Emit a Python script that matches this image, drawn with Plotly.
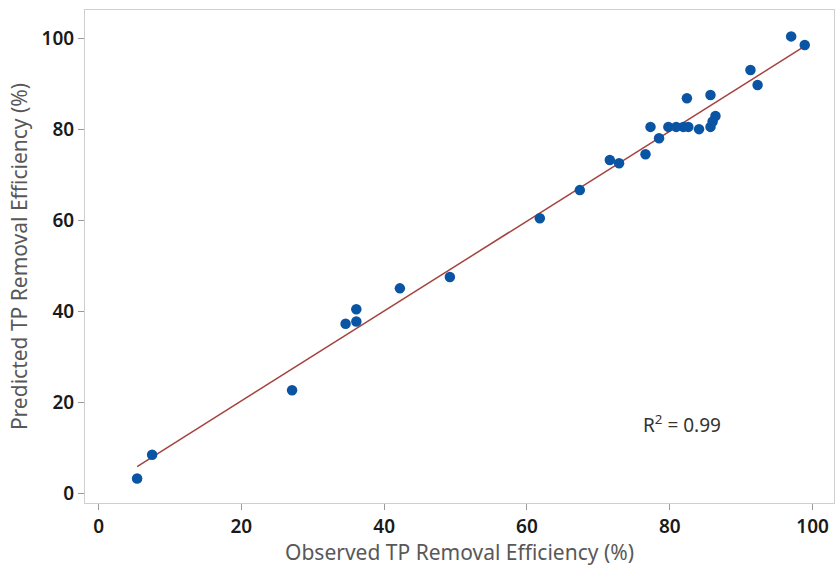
import numpy as np
import plotly.graph_objects as go

# Observed vs. predicted total-phosphorus removal efficiency (%)
observed = [5.4, 7.5, 27.1, 34.6, 36.1, 36.1, 42.2, 49.2, 61.8, 67.4,
            71.6, 72.9, 76.6, 77.3, 78.5, 79.8, 80.9, 81.9, 82.6, 82.4,
            84.1, 85.7, 86.0, 86.4, 85.7, 91.3, 92.3, 97.0, 98.9]
predicted = [3.3, 8.5, 22.7, 37.3, 40.5, 37.8, 45.1, 47.6, 60.5, 66.7,
             73.3, 72.6, 74.6, 80.6, 78.1, 80.6, 80.6, 80.6, 80.6, 86.9,
             80.1, 80.6, 81.8, 83.0, 87.6, 93.1, 89.8, 100.5, 98.6]
x_ticks = [0, 20, 40, 60, 80, 100]
y_ticks = [0, 20, 40, 60, 80, 100]
r2_label = "R<sup>2</sup> = 0.99"

# Least-squares fit line over the observed range
slope, intercept = np.polyfit(observed, predicted, 1)
fit_x = np.array([min(observed), max(observed)])
fit_y = intercept + slope * fit_x

FONT = "Noto Sans"

fig = go.Figure()
fig.add_trace(go.Scatter(
    x=fit_x, y=fit_y, mode="lines",
    line=dict(color="#a5423d", width=1.5),
    hoverinfo="skip", showlegend=False,
))
fig.add_trace(go.Scatter(
    x=observed, y=predicted, mode="markers",
    marker=dict(color="#0a55a3", size=10.5, line=dict(width=0)),
    showlegend=False,
))

axis_common = dict(
    showgrid=False, zeroline=False,
    showline=True, mirror=True, linecolor="#cfcfcf", linewidth=1,
    ticks="outside", ticklen=6, tickcolor="#9a9a9a", tickwidth=1,
    tickfont=dict(family=FONT, size=19, color="#1a1a1a", weight=600),
)

fig.update_xaxes(
    range=[-1.9, 103.0], tickvals=x_ticks,
    title=dict(text="Observed TP Removal Efficiency (%)",
               font=dict(family=FONT, size=21, color="#585858"), standoff=6),
    **axis_common,
)
fig.update_yaxes(
    range=[-2.1, 106.3], tickvals=y_ticks,
    title=dict(text="Predicted TP Removal Efficiency (%)",
               font=dict(family=FONT, size=21, color="#585858"), standoff=8),
    **axis_common,
)

fig.add_annotation(
    x=81.7, y=15.3, text=r2_label, showarrow=False,
    font=dict(family=FONT, size=19, color="#333333"),
)

fig.update_layout(
    width=835, height=566,
    margin=dict(l=85, r=1, t=10, b=63),
    plot_bgcolor="white", paper_bgcolor="white",
)

fig.write_html("out.html")
